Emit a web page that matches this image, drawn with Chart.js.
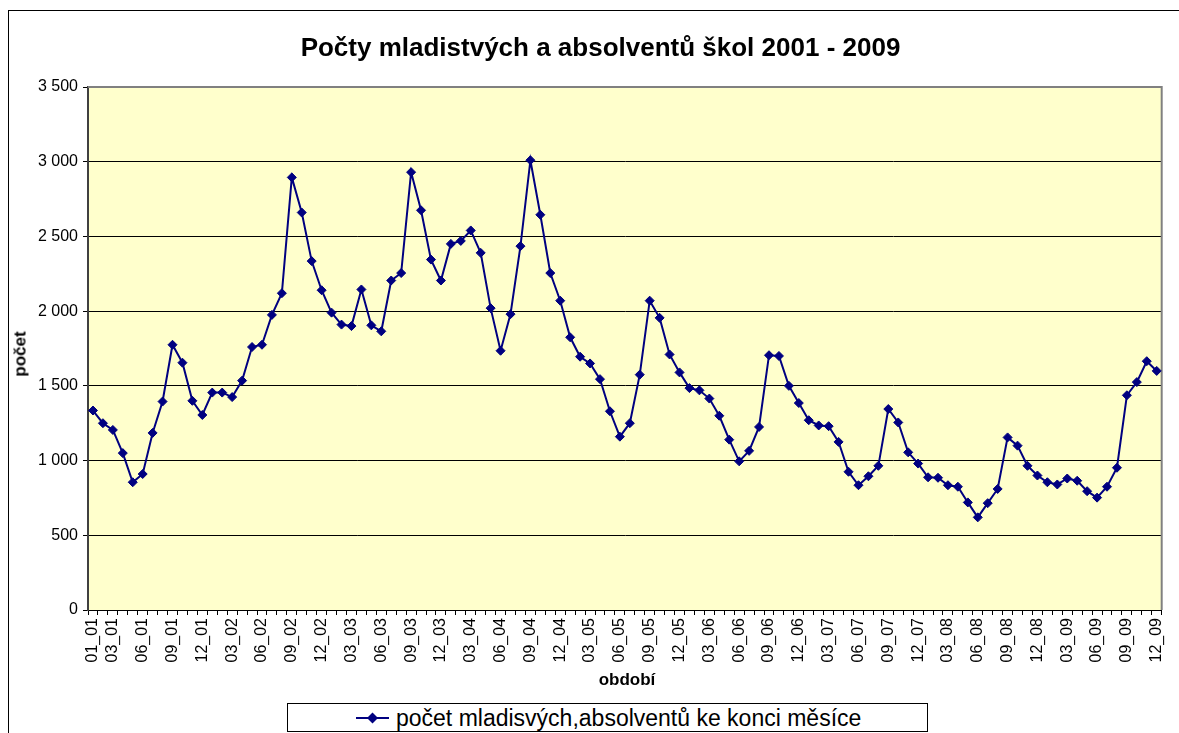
<!DOCTYPE html>
<html>
<head>
<meta charset="utf-8">
<script src="https://cdn.jsdelivr.net/npm/chart.js@4.4.0/dist/chart.umd.min.js"></script>
<style>
  html, body { margin: 0; padding: 0; background: #ffffff; overflow: hidden; }
  body { width: 1179px; height: 733px; position: relative; font-family: Arial, "Liberation Sans", sans-serif; }
  #frame { position: absolute; left: 8px; top: 10px; width: 1200px; height: 800px; border: 1px solid #000; box-sizing: border-box; }
  #wrap { position: absolute; left: 0; top: 0; width: 1179px; height: 733px; }
  #title { position: absolute; left: 0; width: 1201px; top: 47px; transform: translateY(-50%); text-align: center; font-weight: bold; font-size: 26px; color: #000; line-height: 1; }
  #ytitle { position: absolute; left: 20px; top: 354px; transform: translate(-50%, -50%) rotate(-90deg); font-weight: bold; font-size: 17px; line-height: 1; }
  #xtitle { position: absolute; left: 627px; top: 679px; transform: translate(-50%, -50%); font-weight: bold; font-size: 17px; line-height: 1; }
  #legend { position: absolute; left: 287px; top: 703px; width: 641px; height: 29px; border: 1px solid #000; box-sizing: border-box; background: #fff; }
  #legend svg { position: absolute; left: 68px; top: 7px; }
  #legend span { position: absolute; left: 108px; top: 14px; transform: translateY(-50%); font-size: 23px; line-height: 1; white-space: nowrap; }
</style>
</head>
<body>
<div id="frame"></div>
<div id="wrap"><canvas id="c" width="1179" height="733"></canvas></div>
<div id="title">Počty mladistvých a absolventů škol 2001 - 2009</div>
<div id="ytitle">počet</div>
<div id="xtitle">období</div>
<div id="legend"><svg width="34" height="14"><line x1="0" y1="7" x2="33" y2="7" stroke="#000080" stroke-width="2"/><polygon points="16.5,1.5 22,7 16.5,12.5 11,7" fill="#000080"/></svg><span>počet mladisvých,absolventů ke konci měsíce</span></div>
<script>
const categories = [
 "01_01","02_01","03_01","04_01","05_01","06_01","07_01","08_01","09_01","10_01","11_01","12_01",
 "01_02","02_02","03_02","04_02","05_02","06_02","07_02","08_02","09_02","10_02","11_02","12_02",
 "01_03","02_03","03_03","04_03","05_03","06_03","07_03","08_03","09_03","10_03","11_03","12_03",
 "01_04","02_04","03_04","04_04","05_04","06_04","07_04","08_04","09_04","10_04","11_04","12_04",
 "01_05","02_05","03_05","04_05","05_05","06_05","07_05","08_05","09_05","10_05","11_05","12_05",
 "01_06","02_06","03_06","04_06","05_06","06_06","07_06","08_06","09_06","10_06","11_06","12_06",
 "01_07","02_07","03_07","04_07","05_07","06_07","07_07","08_07","09_07","10_07","11_07","12_07",
 "01_08","02_08","03_08","04_08","05_08","06_08","07_08","08_08","09_08","10_08","11_08","12_08",
 "01_09","02_09","03_09","04_09","05_09","06_09","07_09","08_09","09_09","10_09","11_09","12_09"
];
const values = [
 1335,1250,1205,1050,855,910,1185,1395,1775,1655,1400,1305,
 1455,1455,1425,1535,1760,1775,1975,2120,2895,2660,2335,2140,
 1990,1910,1900,2145,1905,1865,2205,2255,2930,2675,2345,2205,
 2450,2470,2540,2390,2020,1735,1980,2435,3010,2645,2255,2070,
 1825,1695,1650,1545,1330,1160,1250,1575,2070,1955,1710,1590,
 1485,1470,1415,1300,1140,995,1065,1225,1705,1700,1500,1385,
 1270,1235,1230,1125,925,835,895,965,1345,1255,1055,980,
 888,885,835,825,720,620,715,810,1155,1100,965,900,
 855,840,880,865,795,752,825,952,1437,1525,1665,1600
];
const shownTicks = [
 "01_01","03_01","06_01","09_01","12_01","03_02","06_02","09_02","12_02",
 "03_03","06_03","09_03","12_03","03_04","06_04","09_04","12_04",
 "03_05","06_05","09_05","12_05","03_06","06_06","09_06","12_06",
 "03_07","06_07","09_07","12_07","03_08","06_08","09_08","12_08",
 "03_09","06_09","09_09","12_09"
];
const yTicks = [0, 500, 1000, 1500, 2000, 2500, 3000, 3500];
const seriesName = "počet mladisvých,absolventů ke konci měsíce";

const plotBg = {
  id: 'plotBg',
  beforeDraw(chart) {
    const a = chart.chartArea, ctx = chart.ctx;
    ctx.save();
    ctx.fillStyle = '#FFFFCC';
    ctx.fillRect(a.left, a.top, a.right - a.left, a.bottom - a.top);
    ctx.restore();
  },
  beforeDatasetsDraw(chart) {
    const a = chart.chartArea, ctx = chart.ctx;
    ctx.save();
    ctx.strokeStyle = '#808080';
    ctx.lineWidth = 2;
    ctx.beginPath();
    ctx.moveTo(a.left, a.top); ctx.lineTo(a.right, a.top); ctx.lineTo(a.right, a.bottom);
    ctx.stroke();
    ctx.restore();
  }
};

const tickFont = { family: 'Arial, "Liberation Sans", sans-serif', size: 16 };

new Chart(document.getElementById('c'), {
  type: 'line',
  data: {
    labels: categories,
    datasets: [{
      label: seriesName,
      data: values,
      borderColor: '#000080',
      backgroundColor: '#000080',
      borderWidth: 2,
      pointStyle: 'rectRot',
      pointRadius: 4.5,
      pointHoverRadius: 4.5,
      pointBackgroundColor: '#000080',
      pointBorderColor: '#000080',
      pointBorderWidth: 1,
      tension: 0,
      fill: false
    }]
  },
  options: {
    responsive: false,
    animation: false,
    events: [],
    layout: { padding: { left: 0, right: 17, top: 87, bottom: 0 } },
    plugins: { legend: { display: false }, title: { display: false }, tooltip: { enabled: false } },
    scales: {
      x: {
        type: 'category',
        offset: true,
        afterFit(s) { s.height = 123; },
        grid: { display: true, offset: true, drawOnChartArea: false, drawTicks: true, tickLength: 5, color: '#000', lineWidth: 1 },
        border: { display: true, color: '#000', width: 1 },
        ticks: {
          autoSkip: false, minRotation: 90, maxRotation: 90, padding: 3,
          color: '#000', font: tickFont,
          callback(v, i) { const l = categories[i]; return shownTicks.includes(l) ? l : ''; }
        }
      },
      y: {
        min: yTicks[0], max: yTicks[yTicks.length - 1],
        afterFit(s) { s.width = 88; },
        afterBuildTicks(s) { s.ticks = yTicks.map(v => ({ value: v })); },
        grid: { color: '#000', lineWidth: 1, drawTicks: true, tickLength: 5 },
        border: { display: true, color: '#404040', width: 2 },
        ticks: {
          padding: 5, color: '#000', font: tickFont,
          callback(v) { return String(v).replace(/\B(?=(\d{3})+(?!\d))/g, ' '); }
        }
      }
    }
  },
  plugins: [plotBg]
});
</script>
</body>
</html>
